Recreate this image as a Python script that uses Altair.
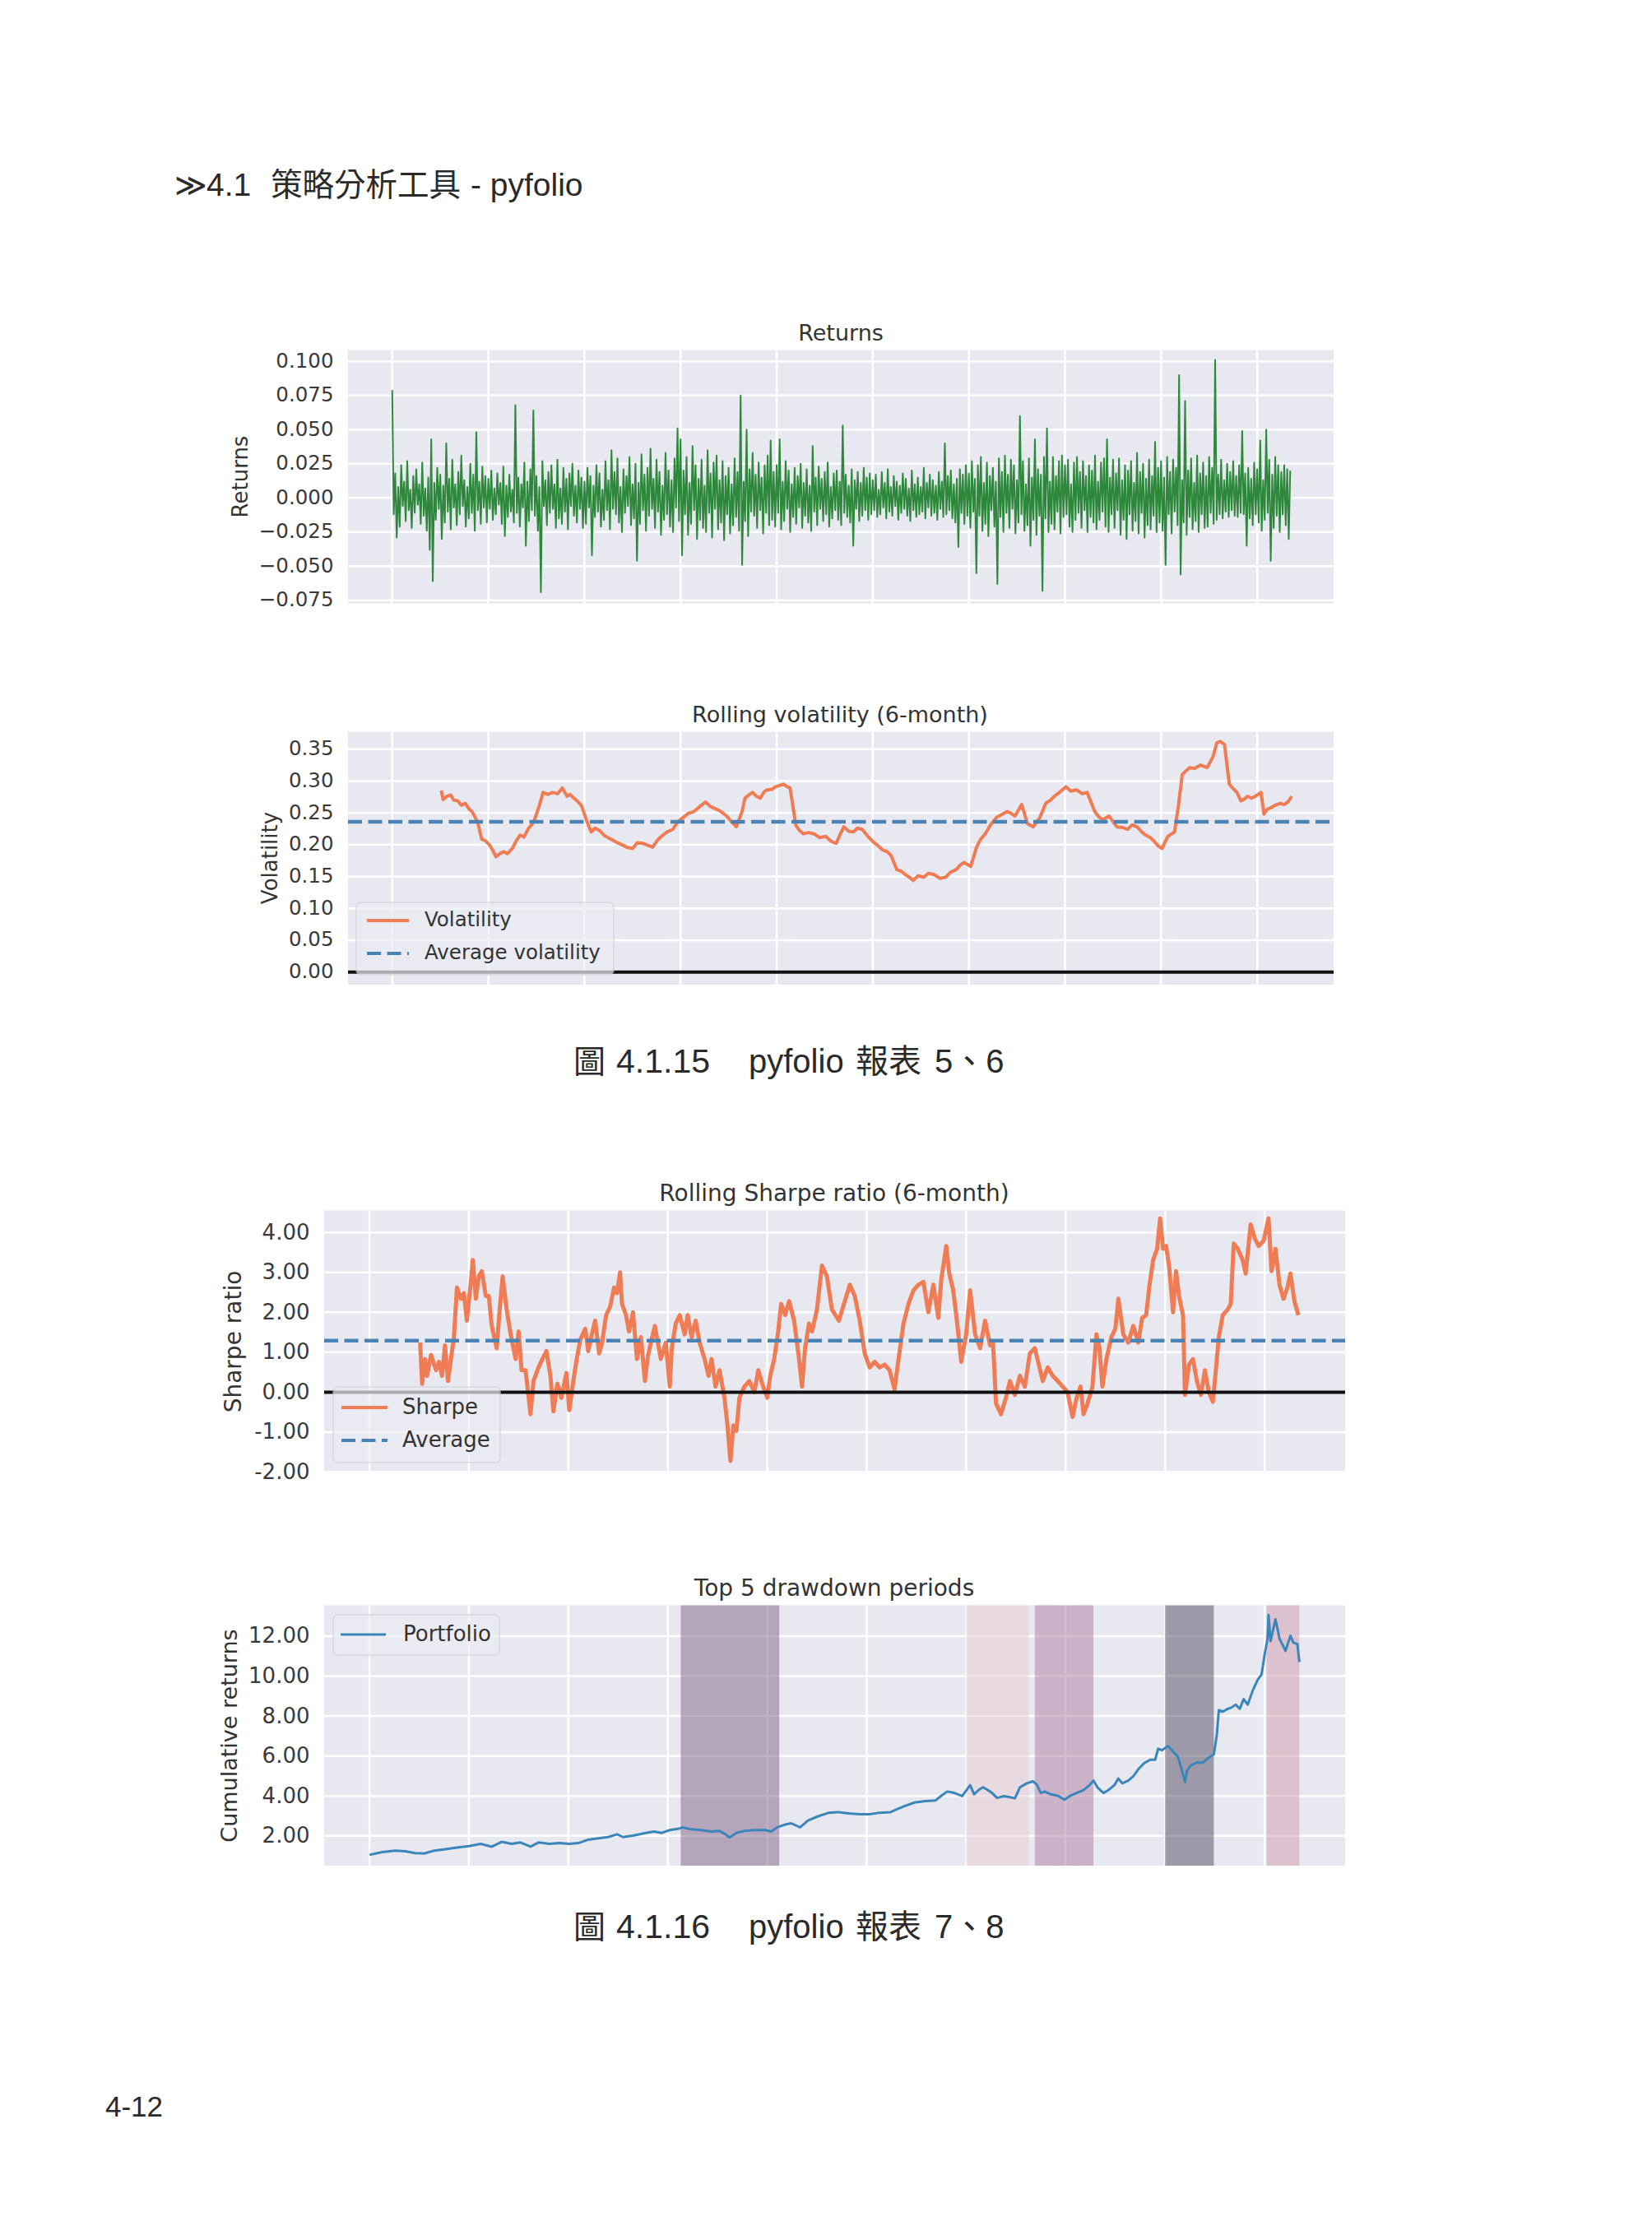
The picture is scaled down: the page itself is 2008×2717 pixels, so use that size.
import altair as alt
import pandas as pd

# ---------------- data ----------------
returns_per_year = 64
returns_values = [
    # year 0
    .079, -.012, .018, -.029, .008, -.021, .024, -.006, .012, -.017, .027, -.009, .006, -.022, .016, -.011,
    .021, -.005, .010, -.019, .026, -.013, .007, -.024, .015, -.038, .043, -.061, .011, -.016, .022, -.008,
    .017, -.030, .009, -.018, .040, -.010, .014, -.023, .028, -.007, .010, -.020, .019, -.012, .031, -.006,
    .013, -.021, .008, -.015, .025, -.011, .017, -.024, .048, -.009, .012, -.019, .023, -.007, .016, -.018,
    # year 1
    .014, -.008, .020, -.016, .007, -.012, .018, -.005, .011, -.019, .023, -.028, .009, -.014, .017, -.010,
    .006, -.018, .068, -.011, .015, -.021, .010, -.007, .026, -.035, .012, -.017, .021, -.009, .064, -.013,
    .016, -.024, .008, -.069, .027, -.006, .013, -.020, .019, -.011, .024, -.008, .010, -.022, .028, -.015,
    .007, -.019, .022, -.010, .014, -.023, .018, -.006, .025, -.013, .009, -.018, .020, -.008, .015, -.022,
    # year 2
    .012, -.019, .022, -.007, .016, -.042, .009, -.014, .024, -.010, .018, -.021, .006, -.016, .027, -.009,
    .013, -.023, .035, -.008, .019, -.012, .029, -.018, .008, -.025, .021, -.011, .016, -.006, .030, -.020,
    .010, -.015, .025, -.046, .011, -.019, .032, -.009, .017, -.024, .022, -.013, .036, -.008, .014, -.022,
    .028, -.010, .019, -.027, .009, -.016, .033, -.012, .020, -.021, .013, -.025, .029, -.007, .051, -.017,
    # year 3
    .043, -.042, .020, -.012, .030, -.027, .011, -.019, .038, -.009, .024, -.030, .014, -.016, .028, -.022,
    .009, -.025, .035, -.011, .018, -.029, .026, -.008, .031, -.023, .013, -.018, .027, -.031, .016, -.012,
    .022, -.026, .010, -.020, .029, -.014, .019, -.024, .075, -.049, .012, -.017, .050, -.028, .021, -.010,
    .033, -.013, .017, -.022, .026, -.009, .015, -.026, .024, -.011, .031, -.020, .042, -.016, .019, -.021,
    # year 4
    .024, -.011, .043, -.023, .012, -.017, .027, -.008, .020, -.025, .010, -.014, .022, -.019, .016, -.007,
    .025, -.022, .011, -.013, .021, -.018, .009, -.024, .038, -.010, .015, -.020, .023, -.008, .014, -.017,
    .019, -.012, .026, -.021, .008, -.015, .018, -.009, .020, -.016, .012, -.020, .053, -.011, .017, -.014,
    .009, -.018, .021, -.035, .013, -.008, .019, -.017, .011, -.013, .022, -.009, .015, -.016, .018, -.012,
    # year 5
    .013, -.009, .017, -.014, .006, -.012, .019, -.007, .011, -.015, .021, -.010, .008, -.013, .016, -.006,
    .012, -.016, .009, -.011, .018, -.008, .014, -.013, .007, -.017, .020, -.009, .010, -.014, .015, -.012,
    .008, -.010, .022, -.015, .011, -.007, .017, -.013, .013, -.011, .009, -.016, .019, -.008, .012, -.014,
    .040, -.012, .016, -.009, .020, -.015, .010, -.018, .014, -.036, .021, -.011, .017, -.019, .024, -.013,
    # year 6
    .018, -.022, .027, -.010, .014, -.055, .024, -.013, .030, -.024, .011, -.019, .026, -.028, .016, -.009,
    .022, -.021, .012, -.063, .029, -.014, .019, -.025, .031, -.011, .017, -.022, .028, -.008, .024, -.026,
    .013, -.018, .060, -.012, .027, -.024, .010, -.020, .029, -.035, .015, -.016, .043, -.027, .021, -.013,
    .017, -.068, .030, -.015, .051, -.025, .012, -.019, .030, -.023, .016, -.010, .027, -.026, .031, -.014,
    # year 7
    .024, -.012, .028, -.021, .010, -.025, .026, -.016, .030, -.011, .019, -.022, .027, -.009, .016, -.025,
    .024, -.014, .020, -.018, .031, -.023, .012, -.016, .026, -.010, .029, -.021, .043, -.025, .015, -.012,
    .028, -.022, .018, -.009, .029, -.027, .013, -.016, .024, -.030, .020, -.012, .027, -.024, .011, -.017,
    .033, -.026, .019, -.011, .025, -.029, .014, -.020, .028, -.023, .016, -.013, .041, -.025, .022, -.018,
    # year 8
    .027, -.024, .015, -.049, .030, -.012, .019, -.026, .028, -.010, .022, -.020, .090, -.056, .013, -.018,
    .071, -.027, .020, -.014, .029, -.023, .011, -.017, .031, -.025, .018, -.012, .026, -.022, .016, -.021,
    .030, -.011, .022, -.019, .101, -.016, .017, -.012, .028, -.015, .013, -.010, .025, -.014, .019, -.009,
    .027, -.013, .016, -.014, .024, -.011, .049, -.012, .018, -.035, .022, -.015, .014, -.020, .026, -.012,
    # year 9
    .021, -.018, .042, -.024, .013, -.016, .050, -.011, .028, -.046, .017, -.022, .030, -.013, .024, -.025,
    .019, -.012, .024, -.020, .021, -.030, .020,
]

vol_points = [
    (0.51, 0.285), (0.53, 0.271), (0.57, 0.276), (0.61, 0.278), (0.64, 0.270), (0.68, 0.269),
    (0.72, 0.262), (0.76, 0.265), (0.80, 0.256), (0.83, 0.252), (0.86, 0.244), (0.89, 0.235),
    (0.93, 0.209), (0.97, 0.206), (1.01, 0.200), (1.04, 0.193), (1.08, 0.181), (1.12, 0.186),
    (1.16, 0.189), (1.20, 0.186), (1.25, 0.194), (1.29, 0.206), (1.33, 0.215), (1.37, 0.212),
    (1.42, 0.226), (1.45, 0.231), (1.48, 0.239), (1.53, 0.261), (1.57, 0.282), (1.62, 0.279),
    (1.67, 0.282), (1.72, 0.280), (1.77, 0.289), (1.82, 0.276), (1.85, 0.279), (1.89, 0.273),
    (1.93, 0.268), (1.97, 0.261), (2.02, 0.239), (2.07, 0.220), (2.11, 0.226), (2.16, 0.222),
    (2.21, 0.214), (2.27, 0.209), (2.33, 0.204), (2.39, 0.200), (2.44, 0.196), (2.50, 0.194),
    (2.55, 0.203), (2.61, 0.202), (2.66, 0.199), (2.71, 0.196), (2.76, 0.207), (2.80, 0.213),
    (2.86, 0.220), (2.92, 0.224), (2.97, 0.236), (3.03, 0.243), (3.08, 0.249), (3.14, 0.252),
    (3.20, 0.260), (3.26, 0.267), (3.31, 0.260), (3.37, 0.256), (3.42, 0.252), (3.48, 0.245),
    (3.53, 0.236), (3.58, 0.228), (3.64, 0.252), (3.67, 0.273), (3.71, 0.278), (3.75, 0.282),
    (3.79, 0.276), (3.83, 0.273), (3.87, 0.283), (3.90, 0.286), (3.95, 0.287), (3.99, 0.291),
    (4.03, 0.293), (4.07, 0.295), (4.11, 0.291), (4.14, 0.289), (4.20, 0.230), (4.24, 0.222),
    (4.28, 0.217), (4.33, 0.219), (4.39, 0.217), (4.45, 0.211), (4.51, 0.213), (4.57, 0.205),
    (4.62, 0.202), (4.66, 0.216), (4.70, 0.228), (4.75, 0.221), (4.80, 0.220), (4.84, 0.226),
    (4.89, 0.224), (4.95, 0.213), (5.00, 0.205), (5.05, 0.199), (5.10, 0.192), (5.15, 0.189),
    (5.19, 0.183), (5.25, 0.161), (5.30, 0.158), (5.34, 0.153), (5.38, 0.149), (5.42, 0.144),
    (5.47, 0.151), (5.53, 0.149), (5.58, 0.155), (5.64, 0.153), (5.70, 0.147), (5.76, 0.149),
    (5.81, 0.157), (5.87, 0.161), (5.91, 0.168), (5.95, 0.172), (6.02, 0.166), (6.08, 0.196),
    (6.12, 0.208), (6.17, 0.217), (6.23, 0.232), (6.29, 0.243), (6.35, 0.248), (6.40, 0.252),
    (6.44, 0.249), (6.48, 0.245), (6.55, 0.263), (6.61, 0.233), (6.67, 0.228), (6.74, 0.243),
    (6.80, 0.265), (6.85, 0.270), (6.89, 0.276), (6.95, 0.283), (7.01, 0.291), (7.06, 0.284),
    (7.12, 0.286), (7.18, 0.280), (7.23, 0.282), (7.31, 0.252), (7.35, 0.244), (7.39, 0.239),
    (7.46, 0.245), (7.50, 0.236), (7.54, 0.228), (7.60, 0.227), (7.65, 0.224), (7.70, 0.231),
    (7.75, 0.228), (7.80, 0.220), (7.84, 0.215), (7.89, 0.211), (7.93, 0.205), (7.97, 0.198),
    (8.01, 0.194), (8.07, 0.213), (8.14, 0.220), (8.18, 0.261), (8.22, 0.310), (8.26, 0.316),
    (8.30, 0.321), (8.35, 0.320), (8.41, 0.325), (8.48, 0.321), (8.54, 0.338), (8.58, 0.360),
    (8.62, 0.362), (8.66, 0.357), (8.71, 0.295), (8.75, 0.288), (8.79, 0.282), (8.83, 0.269),
    (8.87, 0.272), (8.90, 0.276), (8.94, 0.273), (8.98, 0.276), (9.04, 0.282), (9.07, 0.248),
    (9.10, 0.255), (9.14, 0.258), (9.19, 0.262), (9.24, 0.265), (9.28, 0.263), (9.32, 0.267),
    (9.36, 0.276),
]
avg_volatility = 0.236

sharpe_points = [
    (0.51, 1.24), (0.53, 0.21), (0.56, 0.83), (0.58, 0.41), (0.62, 0.93), (0.67, 0.55), (0.70, 0.76),
    (0.73, 0.41), (0.76, 1.17), (0.79, 0.28), (0.82, 0.83), (0.85, 1.38), (0.88, 2.62), (0.92, 2.34),
    (0.95, 2.48), (0.98, 1.79), (1.02, 2.76), (1.04, 3.31), (1.07, 2.34), (1.10, 2.90), (1.13, 3.03),
    (1.17, 2.41), (1.20, 2.41), (1.23, 1.66), (1.28, 1.10), (1.31, 2.07), (1.34, 2.90), (1.38, 2.07),
    (1.42, 1.45), (1.47, 0.83), (1.50, 1.52), (1.53, 0.55), (1.57, 0.55), (1.62, -0.55), (1.65, 0.28),
    (1.70, 0.62), (1.74, 0.83), (1.78, 1.03), (1.82, 0.41), (1.85, -0.48), (1.89, 0.21), (1.93, -0.14),
    (1.98, 0.48), (2.01, -0.45), (2.05, 0.28), (2.08, 0.76), (2.12, 1.31), (2.17, 1.59), (2.20, 1.03),
    (2.23, 1.38), (2.27, 1.79), (2.31, 0.97), (2.34, 1.24), (2.38, 1.93), (2.42, 2.14), (2.46, 2.62),
    (2.49, 2.48), (2.52, 3.00), (2.54, 2.21), (2.58, 1.93), (2.61, 1.52), (2.65, 2.00), (2.69, 0.83),
    (2.73, 1.38), (2.77, 0.28), (2.80, 0.90), (2.83, 1.24), (2.87, 1.66), (2.90, 1.24), (2.93, 0.83),
    (2.98, 1.24), (3.02, 0.14), (3.04, 1.10), (3.08, 1.72), (3.12, 1.93), (3.17, 1.45), (3.20, 1.93),
    (3.24, 1.38), (3.28, 1.79), (3.32, 1.24), (3.37, 0.83), (3.41, 0.41), (3.44, 0.83), (3.48, 0.14),
    (3.52, 0.55), (3.57, -0.14), (3.60, -0.83), (3.63, -1.72), (3.66, -0.83), (3.69, -0.97), (3.72, -0.14),
    (3.77, 0.14), (3.82, 0.28), (3.87, 0.00), (3.91, 0.55), (3.95, 0.21), (4.00, -0.14), (4.03, 0.41),
    (4.07, 0.83), (4.11, 1.52), (4.14, 2.21), (4.18, 1.93), (4.22, 2.28), (4.27, 1.79), (4.32, 0.83),
    (4.35, 0.14), (4.38, 1.10), (4.42, 1.72), (4.45, 1.52), (4.50, 2.07), (4.55, 3.17), (4.60, 2.90),
    (4.65, 2.07), (4.72, 1.79), (4.78, 2.28), (4.83, 2.69), (4.88, 2.41), (4.93, 1.79), (4.98, 0.97),
    (5.03, 0.62), (5.08, 0.76), (5.13, 0.62), (5.18, 0.69), (5.23, 0.55), (5.28, 0.07), (5.32, 0.83),
    (5.37, 1.72), (5.42, 2.21), (5.47, 2.55), (5.52, 2.69), (5.57, 2.76), (5.62, 2.00), (5.67, 2.69),
    (5.72, 1.86), (5.75, 2.83), (5.80, 3.66), (5.83, 2.97), (5.87, 2.55), (5.91, 1.72), (5.95, 0.76),
    (6.00, 1.45), (6.04, 2.55), (6.09, 1.45), (6.14, 1.10), (6.19, 1.79), (6.24, 1.17), (6.27, 1.24),
    (6.30, -0.28), (6.35, -0.55), (6.40, -0.14), (6.44, 0.28), (6.49, -0.07), (6.54, 0.41), (6.59, 0.14),
    (6.64, 0.97), (6.69, 1.10), (6.73, 0.69), (6.77, 0.28), (6.82, 0.62), (6.87, 0.41), (6.92, 0.28),
    (6.97, 0.14), (7.02, 0.00), (7.07, -0.62), (7.11, -0.14), (7.15, 0.14), (7.18, -0.55), (7.22, -0.28),
    (7.27, 0.14), (7.31, 1.45), (7.34, 1.10), (7.37, 0.14), (7.41, 0.83), (7.46, 1.38), (7.50, 1.59),
    (7.53, 2.34), (7.58, 1.45), (7.63, 1.24), (7.68, 1.66), (7.73, 1.24), (7.77, 1.86), (7.81, 1.93),
    (7.84, 2.62), (7.88, 3.31), (7.92, 3.59), (7.95, 4.35), (7.98, 3.59), (8.01, 3.66), (8.04, 3.17),
    (8.08, 2.00), (8.11, 3.03), (8.14, 2.41), (8.18, 1.93), (8.20, -0.07), (8.24, 0.69), (8.28, 0.83),
    (8.32, 0.28), (8.36, -0.07), (8.40, 0.55), (8.44, 0.00), (8.48, -0.24), (8.51, 0.55), (8.54, 1.38),
    (8.58, 1.93), (8.63, 2.07), (8.66, 2.21), (8.69, 3.72), (8.73, 3.59), (8.78, 3.31), (8.81, 2.97),
    (8.86, 4.20), (8.90, 3.86), (8.94, 3.66), (8.99, 3.79), (9.04, 4.35), (9.07, 3.03), (9.11, 3.59),
    (9.15, 2.69), (9.19, 2.34), (9.23, 2.62), (9.26, 2.97), (9.30, 2.28), (9.34, 1.93),
]
avg_sharpe = 1.29

cum_points = [
    (0.00, 1.05), (0.13, 1.19), (0.26, 1.26), (0.36, 1.23), (0.46, 1.14), (0.55, 1.12), (0.65, 1.26),
    (0.75, 1.32), (0.88, 1.42), (1.00, 1.49), (1.12, 1.60), (1.23, 1.46), (1.33, 1.70), (1.43, 1.60),
    (1.52, 1.67), (1.62, 1.46), (1.70, 1.67), (1.81, 1.60), (1.91, 1.64), (2.01, 1.60), (2.10, 1.64),
    (2.20, 1.81), (2.30, 1.88), (2.40, 1.94), (2.49, 2.08), (2.55, 1.94), (2.65, 2.01), (2.78, 2.15),
    (2.86, 2.22), (2.94, 2.15), (3.02, 2.29), (3.11, 2.36), (3.15, 2.43), (3.23, 2.33), (3.33, 2.29),
    (3.44, 2.22), (3.52, 2.25), (3.58, 2.08), (3.62, 1.92), (3.69, 2.15), (3.77, 2.25), (3.87, 2.29),
    (3.98, 2.29), (4.04, 2.22), (4.10, 2.43), (4.18, 2.57), (4.24, 2.63), (4.33, 2.43), (4.41, 2.77),
    (4.51, 2.98), (4.62, 3.16), (4.72, 3.19), (4.82, 3.12), (4.93, 3.08), (5.03, 3.08), (5.13, 3.16),
    (5.24, 3.19), (5.30, 3.32), (5.38, 3.49), (5.48, 3.67), (5.59, 3.74), (5.69, 3.77), (5.75, 4.01),
    (5.81, 4.22), (5.88, 4.15), (5.96, 3.99), (6.04, 4.54), (6.08, 4.08), (6.13, 4.32), (6.17, 4.43),
    (6.22, 4.29), (6.26, 4.15), (6.31, 3.90), (6.38, 3.99), (6.44, 3.94), (6.49, 3.88), (6.54, 4.43),
    (6.61, 4.63), (6.67, 4.73), (6.71, 4.57), (6.75, 4.15), (6.79, 4.22), (6.85, 4.08), (6.92, 4.01),
    (6.99, 3.81), (7.04, 3.99), (7.11, 4.15), (7.18, 4.29), (7.24, 4.54), (7.28, 4.77), (7.32, 4.43),
    (7.38, 4.15), (7.43, 4.29), (7.49, 4.54), (7.53, 4.87), (7.57, 4.63), (7.63, 4.77), (7.68, 4.98),
    (7.74, 5.39), (7.79, 5.64), (7.85, 5.81), (7.90, 5.81), (7.93, 6.36), (7.97, 6.29), (8.03, 6.50),
    (8.08, 6.22), (8.13, 5.94), (8.17, 5.26), (8.20, 4.70), (8.22, 5.26), (8.26, 5.53), (8.32, 5.67),
    (8.38, 5.67), (8.43, 5.88), (8.49, 6.08), (8.52, 7.05), (8.54, 8.29), (8.58, 8.22), (8.63, 8.36),
    (8.67, 8.43), (8.71, 8.57), (8.75, 8.36), (8.79, 8.84), (8.83, 8.57), (8.88, 9.26), (8.93, 9.81),
    (8.97, 10.08), (9.00, 11.05), (9.03, 11.88), (9.04, 13.05), (9.06, 11.74), (9.11, 12.84),
    (9.15, 11.88), (9.21, 11.26), (9.26, 12.01), (9.29, 11.67), (9.33, 11.60), (9.35, 10.70),
]

dd_start = [3.13, 6.00, 6.69, 8.00, 9.02]
dd_end = [4.12, 6.63, 7.28, 8.49, 9.35]
dd_colors = ["#806189", "#eac9cf", "#ac7b9f", "#544961", "#d099ab"]

year_grid = list(range(10))
ret_ticks = [-0.075, -0.05, -0.025, 0.0, 0.025, 0.05, 0.075, 0.1]
vol_ticks = [0.0, 0.05, 0.1, 0.15, 0.2, 0.25, 0.3, 0.35]
sharpe_ticks = [-2, -1, 0, 1, 2, 3, 4]
cum_ticks = [2, 4, 6, 8, 10, 12]

# ---------------- style ----------------
FONT = "DejaVu Sans"
PAGE_FONT = "Liberation Sans, Noto Sans CJK TC"
BG = "#e8e9f0"
TXT = "#333333"
LBL = "#3a3a3a"
PAGE_TXT = "#2a2a2a"
ORANGE = "#f07c55"
STEEL = "#4a83b3"
GREEN = "#2d883b"
BLUE = "#3a86ba"
BLACK = "#111111"

layers = []
dummy = pd.DataFrame({"k": [0]})


def text(txt, x, y, size, font=FONT, color=TXT, align="left", angle=0):
    return alt.Chart(pd.DataFrame({"t": [txt]})).mark_text(
        font=font, fontSize=size, color=color, align=align, baseline="middle", angle=angle
    ).encode(text="t:N", x=alt.value(x), y=alt.value(y))


def scales(frame, xdom, ydom):
    left, right, top, bottom = frame
    xs = alt.Scale(domain=xdom, range=[left, right], nice=False, zero=False)
    ys = alt.Scale(domain=ydom, range=[bottom, top], nice=False, zero=False)
    return xs, ys


def base_layers(frame, xdom, ydom, yticks, label_expr, label_size):
    left = frame[0]
    xs, ys = scales(frame, xdom, ydom)
    bg_df = pd.DataFrame({"x0": [xdom[0]], "x1": [xdom[1]], "y0": [ydom[0]], "y1": [ydom[1]]})
    axis = alt.Axis(values=yticks, orient="left", offset=-left, grid=False, domain=False, ticks=False,
                    labelPadding=18, labelFontSize=label_size, labelFont=FONT, labelColor=LBL,
                    labelExpr=label_expr, title=None, labelOverlap=False)
    bg = alt.Chart(bg_df).mark_rect(color=BG).encode(
        x=alt.X("x0:Q", scale=xs, axis=None), x2="x1:Q",
        y=alt.Y("y0:Q", scale=ys, axis=axis), y2="y1:Q")
    hg = alt.Chart(pd.DataFrame({"v": yticks, "x0": xdom[0], "x1": xdom[1]})).mark_rule(
        color="white", strokeWidth=2.5).encode(
        x=alt.X("x0:Q", scale=xs, axis=None), x2="x1:Q", y=alt.Y("v:Q", scale=ys, axis=None))
    vg = alt.Chart(pd.DataFrame({"g": year_grid, "y0": ydom[0], "y1": ydom[1]})).mark_rule(
        color="white", strokeWidth=2.5).encode(
        x=alt.X("g:Q", scale=xs, axis=None), y=alt.Y("y0:Q", scale=ys, axis=None), y2="y1:Q")
    return xs, ys, [bg, hg, vg]


def hline(val, xs, ys, xdom, color, width, dash=None):
    kw = dict(color=color, strokeWidth=width)
    if dash:
        kw["strokeDash"] = dash
    return alt.Chart(pd.DataFrame({"a": [val], "x0": [xdom[0]], "x1": [xdom[1]]})).mark_rule(**kw).encode(
        x=alt.X("x0:Q", scale=xs, axis=None), x2="x1:Q", y=alt.Y("a:Q", scale=ys, axis=None))


def series(df, xs, ys, color, width):
    return alt.Chart(df).mark_line(color=color, strokeWidth=width, strokeJoin="round").encode(
        x=alt.X("yr:Q", scale=xs, axis=None), y=alt.Y("val:Q", scale=ys, axis=None))


def legend_box(x0, x1, y0, y1):
    return alt.Chart(dummy).mark_rect(fill="#ecedf3", opacity=0.7, stroke="#cfd0d8", strokeWidth=1.5,
                                      cornerRadius=6).encode(
        x=alt.value(x0), x2=alt.value(x1), y=alt.value(y0), y2=alt.value(y1))


def legend_line(x0, x1, y, color, width, dash=None):
    kw = dict(color=color, strokeWidth=width)
    if dash:
        kw["strokeDash"] = dash
    return alt.Chart(dummy).mark_rule(**kw).encode(x=alt.value(x0), x2=alt.value(x1), y=alt.value(y))


DASH = [17, 7.5]

# ---------------- panel 1: Returns ----------------
f1 = (423, 1621, 425.5, 733.5)
xd1 = [-0.46, 9.795]
yd1 = [-0.0772, 0.1083]
xs, ys, base = base_layers(f1, xd1, yd1, ret_ticks, "format(datum.value, '.3f')", 24.5)
ret_df = pd.DataFrame({"yr": [i / returns_per_year for i in range(len(returns_values))],
                       "val": returns_values})
layers += base
layers.append(series(ret_df, xs, ys, GREEN, 2.0))
layers.append(text("Returns", 1022, 406, 27, align="center"))
layers.append(text("Returns", 293, 579.5, 26, align="center", angle=270))

# ---------------- panel 2: Rolling volatility ----------------
f2 = (423, 1621, 889.5, 1197)
yd2 = [-0.0198, 0.3774]
xs, ys, base = base_layers(f2, xd1, yd2, vol_ticks, "format(datum.value, '.2f')", 24.5)
vol_df = pd.DataFrame(vol_points, columns=["yr", "val"])
layers += base
layers.append(series(vol_df, xs, ys, ORANGE, 4))
layers.append(hline(avg_volatility, xs, ys, xd1, STEEL, 4.5, DASH))
layers.append(hline(0.0, xs, ys, xd1, BLACK, 4))
layers.append(legend_box(433, 746, 1097, 1185))
layers.append(legend_line(446, 497, 1119, ORANGE, 4))
layers.append(legend_line(446, 497, 1159, STEEL, 4, DASH))
layers.append(text("Volatility", 516, 1119, 24.5))
layers.append(text("Average volatility", 516, 1159, 24.5))
layers.append(text("Rolling volatility (6-month)", 1021, 870, 27, align="center"))
layers.append(text("Volatility", 329, 1043, 26, align="center", angle=270))

# ---------------- panel 3: Rolling Sharpe ----------------
f3 = (394, 1635, 1471.5, 1791)
xd3 = [-0.455, 9.81]
yd3 = [-2.03, 4.55]
xs, ys, base = base_layers(f3, xd3, yd3, sharpe_ticks,
                           "replace(format(datum.value, '.2f'), '\u2212', '-')", 26)
sh_df = pd.DataFrame(sharpe_points, columns=["yr", "val"])
layers += base
layers.append(series(sh_df, xs, ys, ORANGE, 5))
layers.append(hline(avg_sharpe, xs, ys, xd3, STEEL, 4.5, DASH))
layers.append(hline(0.0, xs, ys, xd3, BLACK, 4))
layers.append(legend_box(405, 608, 1686, 1778))
layers.append(legend_line(415, 471, 1711, ORANGE, 4))
layers.append(legend_line(415, 471, 1751, STEEL, 4, DASH))
layers.append(text("Sharpe", 489, 1711, 26))
layers.append(text("Average", 489, 1751, 26))
layers.append(text("Rolling Sharpe ratio (6-month)", 1014, 1452, 28, align="center"))
layers.append(text("Sharpe ratio", 285, 1631, 28, align="center", angle=270))

# ---------------- panel 4: Top 5 drawdown periods ----------------
f4 = (394, 1635, 1951.5, 2268)
yd4 = [0.51, 13.54]
xs, ys, base = base_layers(f4, xd3, yd4, cum_ticks, "format(datum.value, '.2f')", 26)
layers += base
dd_df = pd.DataFrame({"s": dd_start, "e": dd_end, "c": dd_colors, "y0": yd4[0], "y1": yd4[1]})
layers.append(alt.Chart(dd_df).mark_rect(opacity=0.5).encode(
    x=alt.X("s:Q", scale=xs, axis=None), x2="e:Q",
    y=alt.Y("y0:Q", scale=ys, axis=None), y2="y1:Q",
    color=alt.Color("c:N", scale=None, legend=None)))
cum_df = pd.DataFrame(cum_points, columns=["yr", "val"])
layers.append(series(cum_df, xs, ys, BLUE, 3))
layers.append(legend_box(405, 607, 1963, 2012))
layers.append(legend_line(414, 469, 1987, BLUE, 3))
layers.append(text("Portfolio", 490, 1987, 26))
layers.append(text("Top 5 drawdown periods", 1014, 1932, 28, align="center"))
layers.append(text("Cumulative returns", 280, 2110, 27, align="center", angle=270))

# ---------------- page texts ----------------
layers.append(text("≫", 212, 227, 38, font="DejaVu Sans", color=PAGE_TXT))
layers.append(text("4.1", 251, 226, 39, font=PAGE_FONT, color=PAGE_TXT))
layers.append(text("策略分析工具", 329, 226, 38.5, font=PAGE_FONT, color=PAGE_TXT))
layers.append(text("- pyfolio", 572, 226, 39, font=PAGE_FONT, color=PAGE_TXT))
for cap_y, fig_no, nums in [(1292, "4.1.15", "5、6"), (2344, "4.1.16", "7、8")]:
    layers.append(text("圖", 697, cap_y, 39, font=PAGE_FONT, color=PAGE_TXT))
    layers.append(text(fig_no, 749, cap_y, 41, font=PAGE_FONT, color=PAGE_TXT))
    layers.append(text("pyfolio", 910, cap_y, 40, font=PAGE_FONT, color=PAGE_TXT))
    layers.append(text("報表", 1040, cap_y, 40, font=PAGE_FONT, color=PAGE_TXT))
    layers.append(text(nums, 1136, cap_y, 40, font=PAGE_FONT, color=PAGE_TXT))
layers.append(text("4-12", 128, 2562, 35, font="Liberation Sans", color=PAGE_TXT))

chart = alt.layer(*layers).resolve_scale(x="independent", y="independent").properties(
    width=2008, height=2717, autosize=alt.AutoSizeParams(type="none"), padding=0, background="white"
).configure_view(stroke=None)

chart.save("out.html", embed_options={"renderer": "svg", "actions": False})
